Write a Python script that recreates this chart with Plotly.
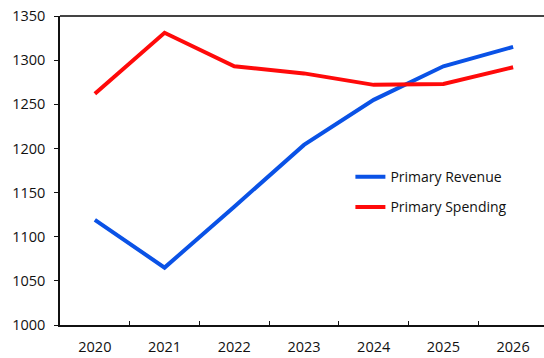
import plotly.graph_objects as go

# Fiscal projection data
years = ["2020", "2021", "2022", "2023", "2024", "2025", "2026"]
primary_revenue = [1119, 1065, 1134, 1204, 1255, 1293, 1315]
primary_spending = [1262, 1331, 1293, 1285, 1272, 1273, 1292]

y_ticks = [1000, 1050, 1100, 1150, 1200, 1250, 1300, 1350]

FONT = "Open Sans, Noto Sans, sans-serif"

fig = go.Figure()
fig.add_trace(go.Scatter(
    x=years, y=primary_revenue, mode="lines", name="Primary Revenue",
    line=dict(color="#0a52e6", width=4), legendgroup="rev",
))
fig.add_trace(go.Scatter(
    x=years, y=primary_spending, mode="lines", name="Primary Spending",
    line=dict(color="#ff0a0a", width=4), legendgroup="spend",
))

fig.update_layout(
    width=544, height=358,
    margin=dict(l=60, r=0, t=16, b=33),
    paper_bgcolor="white", plot_bgcolor="white",
    font=dict(family=FONT, size=14.5, color="#111"),
    showlegend=True,
    legend=dict(
        x=0.6, y=0.53, xanchor="left", yanchor="top",
        bgcolor="rgba(0,0,0,0)", font=dict(size=14, color="#111"),
        tracegroupgap=9, traceorder="grouped",
    ),
    xaxis=dict(
        type="category", range=[-0.5, 6.443],
        showline=True, linecolor="#111", linewidth=1.5,
        ticks="inside", tickson="boundaries", ticklen=4, tickcolor="#111",
        ticklabelstandoff=8,
        showgrid=False, zeroline=False,
    ),
    yaxis=dict(
        range=[1000, 1350], tickvals=y_ticks,
        showline=True, linecolor="#111", linewidth=1.5,
        ticks="outside", ticklen=4, tickcolor="#111",
        ticklabelstandoff=6,
        showgrid=False, zeroline=False,
    ),
    shapes=[dict(
        type="line", xref="paper", yref="paper", x0=0, x1=1, y0=1, y1=1,
        line=dict(color="#444", width=2),
    )],
)

fig.write_html("out.html")
